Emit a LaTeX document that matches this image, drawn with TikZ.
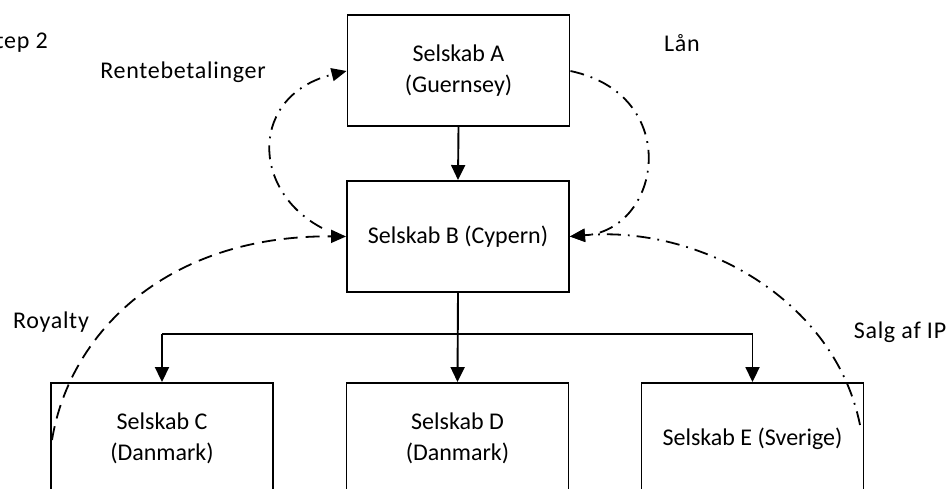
\documentclass[tikz,border=0pt]{standalone}
\usepackage{fontspec}
\setmainfont{Carlito}
\newfontfamily\labelfont[LetterSpace=3]{Carlito}
\usetikzlibrary{arrows.meta}
\begin{document}
\begin{tikzpicture}[x=1pt,y=-1pt,
  company/.style={draw=black,line width=1.9pt,minimum width=222pt,minimum height=111pt,
    align=center,inner sep=0pt,font=\fontsize{24}{31}\selectfont},
  lbl/.style={inner sep=0pt,font=\labelfont\fontsize{24}{28}\selectfont},
  flow/.style={line width=1.9pt,-{Triangle[length=15pt,width=14pt]}},
  dashflow/.style={line width=1.8pt,dash pattern=on 14pt off 8pt,-{Triangle[length=15pt,width=13pt]}},
  dotflow/.style={line width=1.8pt,dash pattern=on 14pt off 7pt on 1.8pt off 7pt,-{Triangle[length=15pt,width=13pt]}}]
\useasboundingbox (0,0) rectangle (952,489);
\clip (0,0) rectangle (952,489);

% companies
\node[company] (A) at (458.5,70.5) {Selskab A\\(Guernsey)};
\node[company] (B) at (458,236.5) {Selskab B (Cypern)};
\node[company] (C) at (162,438.5) {Selskab C\\(Danmark)};
\node[company] (D) at (457.5,438.5) {Selskab D\\(Danmark)};
\node[company] (E) at (752.5,438.5) {Selskab E (Sverige)};

% ownership structure
\coordinate (bus) at (458,334);
\draw[flow] (A.south) -- (B.north);
\draw[flow] (B.south) -- (D.north);
\draw[line width=1.9pt] (C.north |- bus) -- (E.north |- bus);
\draw[flow] (C.north |- bus) -- (C.north);
\draw[flow] (E.north |- bus) -- (E.north);

% flows between companies
\coordinate (bl) at (322,228);
\coordinate (cw) at (52,440);
\coordinate (ee) at (860,425);
\draw[dotflow] (bl) .. controls (250,190) and (250,95) .. ([yshift=-0.5pt]A.west);
\draw[dashflow] (cw) .. controls (70,330) and (170,235) .. (B.west);
\draw[dotflow] ([yshift=-0.5pt]A.east) .. controls (683,95) and (662,230) .. (B.east);
\draw[dotflow] (ee) .. controls (835,300) and (700,225) .. (B.east);

% labels
\node[lbl,anchor=east] (s2) at (48,43) {Step 2};
\node[lbl] (rente) at (183,72) {Rentebetalinger};
\node[lbl] (laan) at (682,43) {Lån};
\node[lbl] (roy) at (51,322) {Royalty};
\node[lbl] (ip) at (900,332) {Salg af IP};
\end{tikzpicture}
\end{document}
